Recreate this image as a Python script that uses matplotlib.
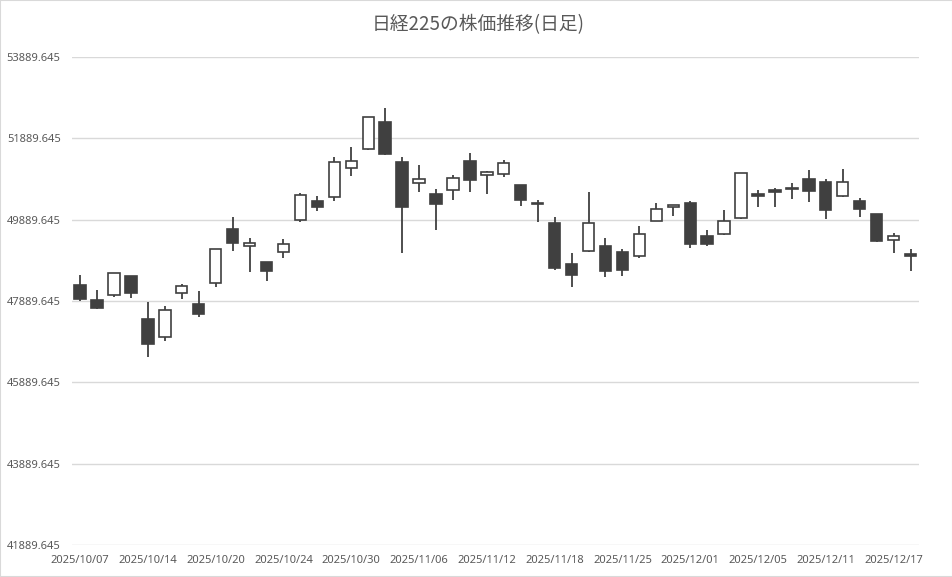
import matplotlib
matplotlib.use('Agg')
import matplotlib.pyplot as plt
from matplotlib.patches import Rectangle

# 日経225 日足 (2025/10/07 - 2025/12/18)
dates = ['2025/10/07', '2025/10/08', '2025/10/09', '2025/10/10', '2025/10/14', '2025/10/15',
         '2025/10/16', '2025/10/17', '2025/10/20', '2025/10/21', '2025/10/22', '2025/10/23',
         '2025/10/24', '2025/10/27', '2025/10/28', '2025/10/29', '2025/10/30', '2025/10/31',
         '2025/11/04', '2025/11/05', '2025/11/06', '2025/11/07', '2025/11/10', '2025/11/11',
         '2025/11/12', '2025/11/13', '2025/11/14', '2025/11/17', '2025/11/18', '2025/11/19',
         '2025/11/20', '2025/11/21', '2025/11/25', '2025/11/26', '2025/11/27', '2025/11/28',
         '2025/12/01', '2025/12/02', '2025/12/03', '2025/12/04', '2025/12/05', '2025/12/08',
         '2025/12/09', '2025/12/10', '2025/12/11', '2025/12/12', '2025/12/15', '2025/12/16',
         '2025/12/17', '2025/12/18']

opens = [48285, 47915, 48038, 48507, 47446, 47001, 48088, 47816, 48334, 49668,
         49248, 48853, 49100, 49890, 50359, 50458, 51149, 51618, 52285, 51297,
         50779, 50532, 50631, 51322, 50976, 51001, 50754, 50310, 49816, 48804,
         49124, 49248, 49100, 49001, 49865, 50211, 50310, 49495, 49544, 49939,
         50532, 50631, 50680, 50878, 50828, 50483, 50359, 50038, 49396, 49050]
highs = [48532, 48162, 48581, 48507, 47874, 47767, 48310, 48137, 49174, 49948,
         49446, 48853, 49421, 50557, 50483, 51421, 51668, 52420, 52631, 51421,
         51240, 50639, 50976, 51520, 51075, 51355, 50754, 50384, 49964, 49075,
         50581, 49446, 49174, 49742, 50310, 50260, 50359, 49643, 50137, 51035,
         50631, 50680, 50803, 51100, 50878, 51125, 50433, 50038, 49569, 49174]
lows = [47890, 47705, 47989, 47956, 46524, 46894, 47931, 47487, 48236, 49116,
        48598, 48376, 48944, 49832, 50104, 50351, 50968, 51610, 51480, 49075,
        50581, 49643, 50376, 50581, 50532, 50943, 50227, 49841, 48655, 48227,
        49092, 48483, 48507, 48952, 49850, 49980, 49199, 49248, 49520, 49915,
        50211, 50203, 50400, 50334, 49906, 50458, 49964, 49347, 49075, 48631]
closes = [47940, 47717, 48581, 48088, 46828, 47668, 48260, 47569, 49174, 49322,
          49306, 48623, 49297, 50507, 50211, 51297, 51322, 52408, 51495, 50211,
          50878, 50285, 50902, 50853, 51050, 51273, 50384, 50277, 48705, 48532,
          49816, 48631, 48655, 49544, 50162, 50252, 49297, 49297, 49865, 51026,
          50483, 50581, 50655, 50606, 50137, 50828, 50162, 49371, 49495, 49001]

y_ticks = [41889.645, 43889.645, 45889.645, 47889.645, 49889.645, 51889.645, 53889.645]

dark = '#404040'
txt = '#595959'
grid_c = '#D9D9D9'

fig = plt.figure(figsize=(9.53, 5.77), dpi=100)
ax = fig.add_axes([0.0752, 0.0555, 0.8891, 0.8457])

x = list(range(len(dates)))
ax.vlines(x, lows, highs, color=dark, linewidth=1.3, zorder=2)

up = [c >= o for o, c in zip(opens, closes)]
bottoms = [min(o, c) for o, c in zip(opens, closes)]
heights = [max(abs(c - o), 15) for o, c in zip(opens, closes)]
faces = ['white' if u else dark for u in up]
ax.bar(x, heights, bottom=bottoms, width=0.67, color=faces, edgecolor=dark,
       linewidth=1.2, zorder=3)

ax.set_xlim(-0.5, len(dates) - 0.5)
ax.set_ylim(y_ticks[0], y_ticks[-1])
ax.set_yticks(y_ticks)
ax.set_yticklabels([f'{v:.3f}' for v in y_ticks])
ax.set_xticks(x[::4])
ax.set_xticklabels(dates[::4])
ax.grid(axis='y', color=grid_c, linewidth=1.0, zorder=0)
ax.set_axisbelow(True)
for s in ax.spines.values():
    s.set_visible(False)
ax.tick_params(axis='both', length=0, colors=txt, labelsize=8.0)
ax.tick_params(axis='y', pad=8)
ax.tick_params(axis='x', pad=7.5)
for lab in ax.get_xticklabels() + ax.get_yticklabels():
    lab.set_family('Noto Sans')

fig.text(0.5015, 0.957, '日経225の株価推移(日足)', ha='center', va='center',
         fontsize=13.5, color=txt, family=['Noto Sans CJK JP', 'DejaVu Sans'])

fig.add_artist(Rectangle((0, 0), 1, 1, transform=fig.transFigure, fill=False,
                         edgecolor=grid_c, linewidth=1.5))

fig.savefig('out.png', dpi=100)
